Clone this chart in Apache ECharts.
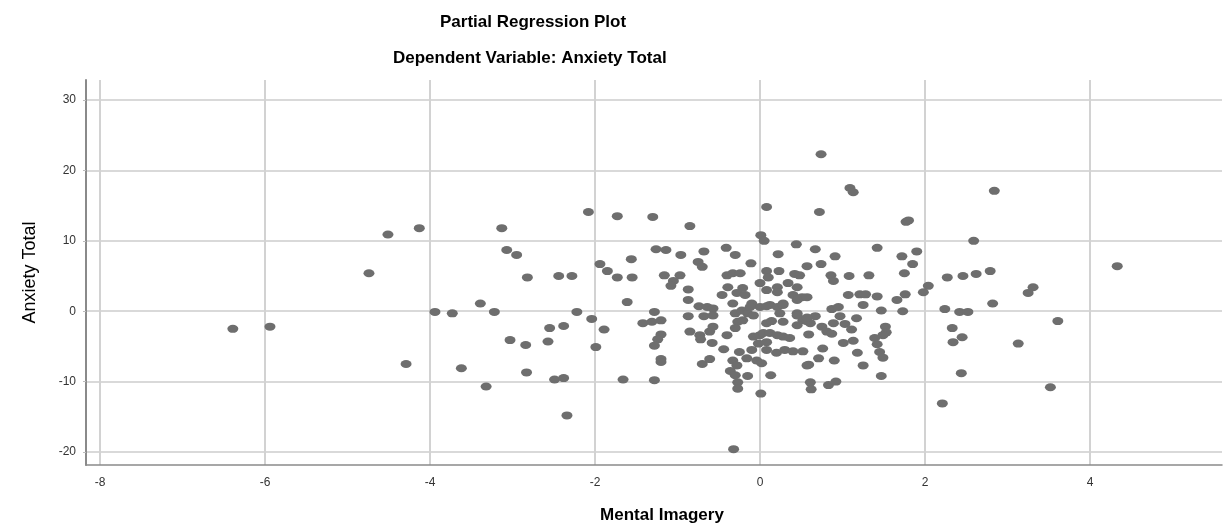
<!DOCTYPE html>
<html>

<head>
    <meta charset="utf-8">
    <script src="https://cdn.jsdelivr.net/npm/echarts/dist/echarts.min.js"></script>
    <style>
        html, body { margin: 0; padding: 0; background: #fff; }
        #main { width: 1227px; height: 529px; }
    </style>
</head>

<body>
    <div id="main"></div>
</body>

<script type='text/javascript'>
    // partial residuals (x = Mental Imagery, y = Anxiety Total)
    var mentalImagery = [
        -6.39, -5.94, -4.74, -4.51, -4.13, -3.13, -3.07, -3.39, -3.94, -3.73, -3.22, -4.29, -3.62, -3.32, -3.03,
        -2.95, -2.82, -2.44, -2.28, -2.08, -1.73, -1.30, -0.85, -1.94, -1.85, -1.56, -1.73, -1.55, -1.26, -1.14,
        -0.96, -0.68, -0.41, -0.30, -0.11, -0.75, -0.70, -1.16, -0.97, -1.05, -1.08, -0.87, -0.87, -1.61, -2.22, -1.28,
        -0.40, -0.33, -0.24, -0.39, -0.21, -0.46, -0.28, -0.18, -0.33, -0.10, -0.74, -0.64, -0.57,
        0.08, 0.23, 0.10, 0.00, 0.08, 0.21, 0.21, 0.34, 0.42, 0.48, 0.45, 0.40, 0.51, 0.00, 0.12, 0.28, 0.45, 0.24, 0.45,
        0.08, 0.01, 0.05, 0.44, 0.22, 0.57,
        0.74, 1.09, 1.13, 0.72, 1.77, 1.80, 2.84, 2.59, 4.33,
        0.67, 0.91, 1.42, 1.72, 1.90, 1.85, 0.74, 0.86, 0.89, 1.08, 1.32, 1.75, 1.07, 1.21, 1.28, 1.42, 1.25, 1.76, 1.66,
        1.47, 1.73, 0.87, 0.95, 0.57, 2.04, 1.98, 2.27, 2.46, 2.62, 2.79, 3.31, 3.25, 2.82, 2.24, 2.42, 2.52,
        3.61, 3.13, 2.33, 2.45, 2.34, 2.44, 2.21, 3.52,
        0.67, 0.97, 1.17, 0.52, 0.61, 0.75, 0.89, 1.03, 1.11, 0.81, 0.87, 0.59, 1.52, 1.53, 1.49, 1.39, 1.01, 1.13,
        1.42, 1.45, 1.49, 0.52, 0.76, 1.18, 0.71, 0.90, 0.59, 1.25, 1.47, 0.61, 0.62, 0.83, 0.92,
        -2.04, -1.89, -2.55, -2.38, -2.84, -2.57, -1.99, -2.83, -2.49, -2.38, -1.66, -1.28, -2.34, -0.32, 0.01,
        -1.42, -1.31, -1.20, -1.20, -1.24, -1.28, -1.20, -1.20,
        -0.87, -0.68, -0.57, -0.85, -0.73, -0.72, -0.61, -0.57, -0.58, -0.44, -0.40, -0.25, -0.70, -0.61, -0.33, -0.28,
        -0.36, -0.30, -0.27, -0.27, -0.15, -0.10, -0.16, -0.04, 0.02, 0.13,
        -0.30, -0.22, -0.27, -0.21, -0.30, -0.15, -0.08, -0.12,
        -0.08, 0.00, 0.04, 0.12, 0.21, 0.28, 0.36, -0.02, 0.08, 0.08, 0.20, 0.30, 0.40,
        0.08, 0.14, 0.28, 0.45, 0.57, 0.45, 0.57, 0.08, 0.21, 0.28, 0.57
    ];
    var anxietyTotal = [
        -2.5, -2.2, 5.4, 10.9, 11.8, 11.8, 8.7, 1.1, -0.1, -0.3, -0.1, -7.5, -8.1, -10.7, -4.1,
        8.0, 4.8, 5.0, 5.0, 14.1, 13.5, 13.4, 12.1, 6.7, 5.7, 7.4, 4.8, 4.8, 8.8, 8.7,
        8.0, 8.5, 9.0, 8.0, 6.8, 7.0, 6.3, 5.1, 5.1, 4.3, 3.6, 3.1, 1.6, 1.3, -0.1, -0.1,
        5.1, 5.4, 5.4, 3.4, 3.3, 2.3, 2.6, 2.3, 1.1, 1.1, 0.7, 0.6, 0.4,
        5.7, 5.7, 4.8, 4.0, 3.0, 3.4, 2.7, 4.0, 5.3, 5.1, 3.4, 2.3, 2.0, 0.6, 0.9, 1.1, 1.6, -0.3, -0.3,
        14.8, 10.8, 10.0, 9.5, 8.1, 6.4,
        22.3, 17.5, 16.9, 14.1, 12.7, 12.9, 17.1, 10.0, 6.4,
        8.8, 7.8, 9.0, 7.8, 8.5, 6.7, 6.7, 5.1, 4.3, 5.0, 5.1, 5.4, 2.3, 2.4, 2.4, 2.1, 0.9, 2.4, 1.6,
        0.1, 0.0, 0.3, 0.6, 2.0, 3.6, 2.7, 4.8, 5.0, 5.3, 5.7, 3.4, 2.6, 1.1, 0.3, -0.1, -0.1,
        -1.4, -4.6, -2.4, -3.7, -4.4, -8.8, -13.1, -10.8,
        -0.7, -0.7, -1.0, -1.3, -1.7, -2.2, -1.7, -1.8, -2.6, -2.9, -3.2, -3.3, -2.2, -3.0, -3.4, -3.8, -4.5, -4.2,
        -4.7, -5.8, -6.6, -5.7, -5.3, -5.9, -6.7, -7.0, -7.6, -7.7, -9.2, -10.1, -11.1, -10.5, -10.0,
        -1.1, -2.6, -2.4, -2.1, -4.8, -4.3, -5.1, -8.7, -9.7, -9.5, -9.7, -9.8, -14.8, -19.6, -11.7,
        -1.7, -1.5, -1.3, -3.3, -4.0, -4.9, -6.8, -7.2,
        -0.7, -0.7, -0.6, -2.9, -3.4, -4.0, -2.9, -2.2, -4.5, -5.4, -3.4, -5.8, -7.5, -6.8, -7.0, -7.7,
        -8.5, -9.1, -10.1, -11.0, -9.2, -5.5, -6.7, -7.0, -7.4, -9.1,
        -0.3, 0.1, -1.5, -1.3, -2.4, -0.3, -0.6, 0.6,
        -3.6, -3.4, -3.1, -3.1, -3.4, -3.6, -3.8, -4.6, -4.4, -5.5, -5.9, -5.5, -5.7,
        -1.7, -1.4, -1.5, -2.0, -1.4, -0.6, -0.9, 0.7, 0.6, 0.9, -7.7
    ];
    var xTicks = [-8, -6, -4, -2, 0, 2, 4];
    var yTicks = [-20, -10, 0, 10, 20, 30];

    var points = mentalImagery.map(function (x, i) {
        return [x, anxietyTotal[i]];
    });

    var option = {
        animation: false,
        backgroundColor: '#fff',
        title: [
            {
                text: 'Partial Regression Plot',
                left: 435, top: 9,
                textStyle: { fontFamily: 'Liberation Sans', fontSize: 17, fontWeight: 'bold', color: '#000' }
            },
            {
                text: 'Dependent Variable: Anxiety Total',
                left: 388, top: 45,
                textStyle: { fontFamily: 'Liberation Sans', fontSize: 17, fontWeight: 'bold', color: '#000' }
            }
        ],
        grid: { left: 86, right: 5, top: 80, bottom: 64, containLabel: false },
        xAxis: {
            type: 'value',
            min: -8.17, max: 5.6,
            splitNumber: 7,
            name: 'Mental Imagery',
            nameLocation: 'middle',
            nameGap: 42,
            nameTextStyle: { fontFamily: 'Liberation Sans', fontSize: 17, fontWeight: 'bold', color: '#000', padding: [0, 0, 0, 16] },
            axisLine: { show: true, onZero: false, lineStyle: { color: '#8a8a8a', width: 1.5 } },
            axisTick: { show: false },
            axisLabel: {
                margin: 12, color: '#333', fontSize: 12, fontFamily: 'Liberation Sans',
                showMinLabel: false, showMaxLabel: false,
                formatter: function (v) { return xTicks.indexOf(v) >= 0 ? String(v) : ''; }
            },
            splitLine: { show: true, showMinLine: false, showMaxLine: false, lineStyle: { color: '#d2d2d2', width: 2 } }
        },
        yAxis: {
            type: 'value',
            min: -21.85, max: 32.85,
            splitNumber: 5,
            name: 'Anxiety Total',
            nameLocation: 'middle',
            nameGap: 47,
            nameTextStyle: { fontFamily: 'Liberation Sans', fontSize: 18, color: '#000' },
            axisLine: { show: true, onZero: false, lineStyle: { color: '#8a8a8a', width: 2 } },
            axisTick: { show: true, length: 3, lineStyle: { color: '#bbb' } },
            axisLabel: {
                margin: 10, color: '#333', fontSize: 12, fontFamily: 'Liberation Sans',
                showMinLabel: false, showMaxLabel: false,
                formatter: function (v) { return yTicks.indexOf(v) >= 0 ? String(v) : ''; }
            },
            splitLine: { show: true, showMinLine: false, showMaxLine: false, lineStyle: { color: '#cccccc', width: 1.5 } }
        },
        series: [{
            type: 'scatter',
            data: points,
            symbol: 'circle',
            symbolSize: [11, 8],
            itemStyle: { color: '#6e6e6e', opacity: 1 }
        }]
    };

    var chart = echarts.init(document.getElementById('main'));
    chart.setOption(option);
</script>

</html>
